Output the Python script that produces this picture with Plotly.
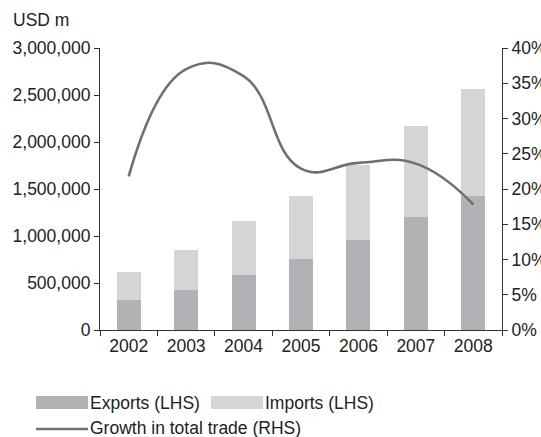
import plotly.graph_objects as go

years = ["2002", "2003", "2004", "2005", "2006", "2007", "2008"]
exports = [319000, 425000, 585000, 755000, 957000, 1205000, 1425000]
imports = [298000, 426000, 575000, 670000, 798000, 965000, 1139000]
growth = [21.8, 37.0, 36.0, 22.9, 23.7, 23.6, 17.8]

left_ticks = [0, 500000, 1000000, 1500000, 2000000, 2500000, 3000000]
right_ticks = [0, 5, 10, 15, 20, 25, 30, 35, 40]

EXP_COL = "#b1b2b5"
IMP_COL = "#d4d5d7"
LINE_COL = "#6f6f71"
AX_COL = "#333333"
FONT = "Liberation Sans, Arial, Helvetica, sans-serif"
FS = 17.5

# plot area in pixels
W, H = 541, 437
L, R, T, B = 100, 39, 48, 107
pw, ph = W - L - R, H - T - B


def px(x):
    return (x - L) / pw


def py(y):
    return (H - B - y) / ph


fig = go.Figure()
fig.add_trace(go.Bar(x=years, y=exports, name="Exports (LHS)",
                     marker=dict(color=EXP_COL, line=dict(width=0)),
                     showlegend=False))
fig.add_trace(go.Bar(x=years, y=imports, name="Imports (LHS)",
                     marker=dict(color=IMP_COL, line=dict(width=0)),
                     showlegend=False))
fig.add_trace(go.Scatter(x=years, y=growth, yaxis="y2", mode="lines",
                         name="Growth in total trade (RHS)",
                         line=dict(color=LINE_COL, width=2.6, shape="spline",
                                   smoothing=1.3),
                         showlegend=False))

# legend drawn as shapes + text
shapes = [
    dict(type="rect", xref="paper", yref="paper", x0=px(36), x1=px(88),
         y0=py(409), y1=py(396), fillcolor=EXP_COL, line=dict(width=0)),
    dict(type="rect", xref="paper", yref="paper", x0=px(211), x1=px(263),
         y0=py(409), y1=py(396), fillcolor=IMP_COL, line=dict(width=0)),
    dict(type="line", xref="paper", yref="paper", x0=px(36), x1=px(88),
         y0=py(429), y1=py(429), line=dict(color=LINE_COL, width=2.6)),
]
annotations = [
    dict(text="USD m", xref="paper", yref="paper", x=px(11), y=py(20),
         xanchor="left", yanchor="middle", showarrow=False,
         font=dict(size=FS, color="#222")),
    dict(text="Exports (LHS)", xref="paper", yref="paper", x=px(88), y=py(403),
         xanchor="left", yanchor="middle", showarrow=False,
         font=dict(size=FS, color="#222")),
    dict(text="Imports (LHS)", xref="paper", yref="paper", x=px(263), y=py(403),
         xanchor="left", yanchor="middle", showarrow=False,
         font=dict(size=FS, color="#222")),
    dict(text="Growth in total trade (RHS)", xref="paper", yref="paper",
         x=px(88), y=py(428), xanchor="left", yanchor="middle",
         showarrow=False, font=dict(size=FS, color="#222")),
]

fig.update_layout(
    width=W, height=H,
    margin=dict(l=L, r=R, t=T, b=B, pad=0, autoexpand=False),
    barmode="stack", bargap=0.58,
    plot_bgcolor="white", paper_bgcolor="white",
    font=dict(family=FONT, size=FS, color="#222"),
    xaxis=dict(type="category", showline=True, linecolor=AX_COL, linewidth=1.2,
               ticks="outside", tickson="boundaries", ticklen=5,
               tickcolor=AX_COL, showgrid=False, zeroline=False,
               automargin=False),
    yaxis=dict(range=[0, 3000000], tickvals=left_ticks,
               ticktext=[f"{v:,}" for v in left_ticks],
               showline=True, linecolor=AX_COL, linewidth=1.2,
               ticks="outside", ticklen=5, tickcolor=AX_COL,
               showgrid=False, zeroline=False, automargin=False),
    yaxis2=dict(range=[0, 40], tickvals=right_ticks,
                ticktext=[f"{v}%" for v in right_ticks],
                overlaying="y", side="right",
                showline=True, linecolor=AX_COL, linewidth=1.2,
                ticks="outside", ticklen=5, tickcolor=AX_COL,
                showgrid=False, zeroline=False, automargin=False),
    shapes=shapes, annotations=annotations,
)

fig.write_html("out.html")
